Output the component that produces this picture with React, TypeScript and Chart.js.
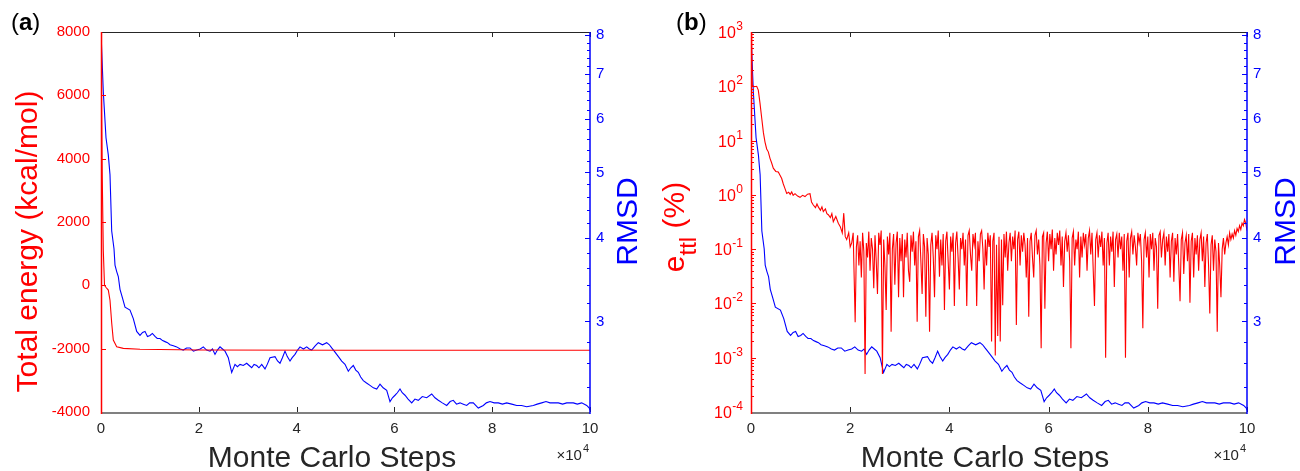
import React, { useEffect, useRef } from "react";
import { Chart, registerables } from "chart.js";
Chart.register(...registerables);

const FONT = "'Liberation Sans', Arial, Helvetica, sans-serif";
const RED = "#ff0000";
const BLUE = "#0000ff";
const DARK = "#262626";

// ---------- data ----------
const rmsdSteps = [0, 470, 1022, 1493, 1840, 2188, 2659, 2863, 3211, 3538, 3885, 4400, 4908, 5930, 6605, 7301, 7976, 8500, 8998, 9500, 10021, 10500, 11043, 11500, 12066, 12600, 13088, 13600, 14111, 14800, 15481, 16200, 16831, 17500, 18201, 18900, 19571, 20300, 20920, 21600, 22290, 22800, 23313, 23800, 24336, 24850, 25358, 26033, 26400, 26728, 27403, 27900, 28426, 29100, 29796, 30300, 30818, 31300, 31841, 32300, 32863, 33538, 34000, 34561, 35583, 36100, 36606, 37100, 37628, 38100, 38651, 39100, 39673, 40200, 40696, 41400, 42066, 42600, 43088, 43800, 44438, 45300, 46156, 46700, 47178, 47700, 48201, 48700, 49223, 49898, 50573, 51100, 51596, 52100, 52618, 53100, 53641, 54300, 55010, 55700, 56381, 57056, 57700, 58426, 59101, 59600, 60123, 60600, 61146, 61600, 62168, 62800, 63538, 64200, 64888, 65700, 66606, 67628, 68300, 68978, 69800, 70696, 71400, 72045, 72700, 73416, 74100, 74786, 75400, 76135, 77158, 78181, 78800, 79551, 80400, 81248, 82100, 82966, 84000, 85011, 86000, 87056, 88405, 89200, 90123, 91000, 91820, 92600, 93518, 94400, 95236, 96585, 97400, 98303, 99326, 99857, 100000];
const rmsdValues = [8.09, 6.59, 5.63, 5.31, 4.96, 4.09, 3.85, 3.64, 3.56, 3.5, 3.35, 3.25, 3.15, 3.12, 3.03, 2.9, 2.86, 2.89, 2.9, 2.85, 2.86, 2.88, 2.85, 2.83, 2.83, 2.81, 2.8, 2.79, 2.77, 2.76, 2.75, 2.73, 2.72, 2.74, 2.74, 2.71, 2.72, 2.73, 2.75, 2.72, 2.71, 2.73, 2.68, 2.72, 2.75, 2.73, 2.71, 2.65, 2.58, 2.52, 2.59, 2.57, 2.59, 2.58, 2.6, 2.58, 2.56, 2.59, 2.58, 2.56, 2.59, 2.55, 2.59, 2.65, 2.66, 2.62, 2.6, 2.65, 2.71, 2.66, 2.62, 2.65, 2.68, 2.72, 2.75, 2.73, 2.75, 2.73, 2.72, 2.76, 2.79, 2.77, 2.79, 2.77, 2.74, 2.71, 2.68, 2.65, 2.62, 2.59, 2.53, 2.56, 2.58, 2.54, 2.52, 2.48, 2.45, 2.43, 2.41, 2.39, 2.38, 2.42, 2.39, 2.37, 2.28, 2.31, 2.33, 2.35, 2.38, 2.35, 2.33, 2.3, 2.27, 2.3, 2.29, 2.32, 2.31, 2.34, 2.31, 2.29, 2.27, 2.25, 2.28, 2.29, 2.26, 2.27, 2.26, 2.25, 2.27, 2.27, 2.23, 2.25, 2.27, 2.28, 2.27, 2.27, 2.26, 2.27, 2.26, 2.25, 2.25, 2.24, 2.25, 2.26, 2.27, 2.28, 2.27, 2.27, 2.27, 2.26, 2.27, 2.27, 2.26, 2.27, 2.25, 2.23, 2.214];

const energySteps = [0, 100, 250, 470, 716, 1000, 1493, 1840, 2188, 2515, 3211, 4560, 7976, 20000, 50000, 100000];
const energyValues = [8000, 6000, 3500, 1100, 0, -60, -150, -470, -1190, -1730, -1940, -1990, -2020, -2040, -2048, -2050];

const errSteps = [
  0, 130, 262, 700, 1149, 1472, 1800, 2157, 2500, 2823, 3160, 3488, 3831, 4150, 4496, 5000, 5504, 5850, 6190, 6500,
  6855, 7198, 7600, 7900, 8206, 8500, 8871, 9400, 9879, 10400, 10887, 11400, 11895, 12200, 12560, 13000, 13300, 13569, 14000, 14300,
  14577, 15000, 15300, 15585, 16000, 16300, 16593, 17100, 17601, 18000, 18400, 18700, 19000, 19294, 19700, 20000, 20302, 20600,
  21000, 21250, 21500, 21750, 22000, 22250, 22500, 22750, 23000, 23250, 23500, 23750, 24000, 24250, 24500, 24750, 25000, 25250, 25500, 25750,
  26000, 26250, 26500, 26750, 27000, 27250, 27500, 27750, 28000, 28250, 28500, 28750, 29000, 29250, 29500, 29750, 30000, 30250, 30500, 30750,
  31000, 31250, 31500, 31750, 32000, 32250, 32500, 32750, 33000, 33250, 33500, 33750, 34000, 34250, 34500, 34750, 35000, 35250, 35500, 35750,
  36000, 36250, 36500, 36750, 37000, 37250, 37500, 37750, 38000, 38250, 38500, 38750, 39000, 39250, 39500, 39750, 40000, 40250, 40500, 40750,
  41000, 41250, 41500, 41750, 42000, 42250, 42500, 42750, 43000, 43250, 43500, 43750, 44000, 44250, 44500, 44750, 45000, 45250, 45500, 45750,
  46000, 46250, 46500, 46750, 47000, 47250, 47500, 47750, 48000, 48250, 48500, 48750, 49000, 49250, 49500, 49750, 50000, 50250, 50500, 50750,
  51000, 51250, 51500, 51750, 52000, 52250, 52500, 52750, 53000, 53250, 53500, 53750, 54000, 54250, 54500, 54750, 55000, 55250, 55500, 55750,
  56000, 56250, 56500, 56750, 57000, 57250, 57500, 57750, 58000, 58250, 58500, 58750, 59000, 59250, 59500, 59750, 60000, 60250, 60500, 60750,
  61000, 61250, 61500, 61750, 62000, 62250, 62500, 62750, 63000, 63250, 63500, 63750, 64000, 64250, 64500, 64750, 65000, 65250, 65500, 65750,
  66000, 66250, 66500, 66750, 67000, 67250, 67500, 67750, 68000, 68250, 68500, 68750, 69000, 69250, 69500, 69750, 70000, 70250, 70500, 70750,
  71000, 71250, 71500, 71750, 72000, 72250, 72500, 72750, 73000, 73250, 73500, 73750, 74000, 74250, 74500, 74750, 75000, 75250, 75500, 75750,
  76000, 76250, 76500, 76750, 77000, 77250, 77500, 77750, 78000, 78250, 78500, 78750, 79000, 79250, 79500, 79750, 80000, 80250, 80500, 80750,
  81000, 81250, 81500, 81750, 82000, 82250, 82500, 82750, 83000, 83250, 83500, 83750, 84000, 84250, 84500, 84750, 85000, 85250, 85500, 85750,
  86000, 86250, 86500, 86750, 87000, 87250, 87500, 87750, 88000, 88250, 88500, 88750, 89000, 89250, 89500, 89750, 90000, 90250, 90500, 90750,
  91000, 91250, 91500, 91750, 92000, 92250, 92500, 92750, 93000, 93250, 93500, 93750, 94000, 94250, 94500, 94750, 95000, 95250, 95500, 95750,
  96000, 96250, 96500, 96750, 97000, 97250, 97500, 97750, 98000, 98250, 98500, 98750, 99000, 99250, 99500, 99750, 100000,
];
const errValues = [
  1000, 260, 104, 98, 100, 85, 50, 26, 14, 9.4, 7, 6.2, 4.7, 3.9, 3.1, 2.7, 2.65, 2.3, 2.0, 1.6,
  1.3, 1.06, 1.12, 1.02, 1.13, 0.98, 1.05, 0.95, 0.9, 0.98, 0.93, 1.03, 1.05, 0.74, 0.65, 0.58, 0.68, 0.6, 0.52, 0.6,
  0.49, 0.55, 0.45, 0.43, 0.38, 0.45, 0.32, 0.4, 0.3, 0.26, 0.2, 0.46, 0.17, 0.15, 0.2, 0.11, 0.13, 0.2,
  0.0045, 0.11, 0.18, 0.05, 0.14, 0.03, 0.2, 0.09, 0.0005, 0.13, 0.07, 0.21, 0.04, 0.16, 0.1, 0.019, 0.18, 0.06, 0.015, 0.2,
  0.12, 0.22, 0.0005, 0.15, 0.05, 0.0076, 0.17, 0.08, 0.2, 0.003, 0.1, 0.19, 0.022, 0.13, 0.21, 0.013, 0.16, 0.06, 0.19, 0.013,
  0.15, 0.07, 0.2, 0.04, 0.025, 0.18, 0.09, 0.21, 0.05, 0.14, 0.0046, 0.17, 0.22, 0.06, 0.015, 0.19, 0.11, 0.0057, 0.16, 0.08,
  0.003, 0.12, 0.2, 0.07, 0.013, 0.18, 0.1, 0.22, 0.031, 0.15, 0.05, 0.19, 0.0076, 0.14, 0.21, 0.06, 0.018, 0.17, 0.09, 0.2,
  0.009, 0.13, 0.21, 0.07, 0.018, 0.16, 0.1, 0.2, 0.05, 0.15, 0.009, 0.18, 0.22, 0.08, 0.04, 0.19, 0.12, 0.2, 0.009, 0.14,
  0.06, 0.19, 0.22, 0.1, 0.018, 0.15, 0.05, 0.2, 0.11, 0.18, 0.002, 0.14, 0.2, 0.0011, 0.12, 0.0025, 0.17, 0.002, 0.15, 0.0093,
  0.19, 0.07, 0.21, 0.04, 0.13, 0.2, 0.06, 0.17, 0.1, 0.22, 0.004, 0.15, 0.21, 0.05, 0.18, 0.09, 0.2, 0.12, 0.03, 0.16,
  0.0057, 0.14, 0.2, 0.07, 0.03, 0.18, 0.22, 0.08, 0.15, 0.05, 0.0015, 0.17, 0.2, 0.008, 0.13, 0.21, 0.06, 0.19, 0.1, 0.23,
  0.04, 0.16, 0.08, 0.2, 0.12, 0.22, 0.05, 0.17, 0.02, 0.14, 0.2, 0.09, 0.18, 0.06, 0.0015, 0.16, 0.21, 0.05, 0.15, 0.1,
  0.21, 0.03, 0.17, 0.07, 0.2, 0.12, 0.19, 0.04, 0.16, 0.22, 0.08, 0.2, 0.04, 0.009, 0.15, 0.2, 0.07, 0.18, 0.11, 0.21,
  0.05, 0.16, 0.001, 0.13, 0.2, 0.05, 0.17, 0.09, 0.21, 0.02, 0.15, 0.19, 0.07, 0.2, 0.1, 0.17, 0.04, 0.19, 0.001, 0.14,
  0.2, 0.03, 0.16, 0.21, 0.08, 0.18, 0.11, 0.05, 0.2, 0.13, 0.19, 0.06, 0.0035, 0.15, 0.2, 0.07, 0.17, 0.03, 0.19, 0.1,
  0.2, 0.04, 0.16, 0.11, 0.008, 0.18, 0.21, 0.07, 0.15, 0.2, 0.05, 0.17, 0.09, 0.19, 0.03, 0.14, 0.2, 0.025, 0.16, 0.08,
  0.19, 0.05, 0.011, 0.15, 0.2, 0.035, 0.13, 0.18, 0.06, 0.19, 0.0103, 0.14, 0.2, 0.03, 0.16, 0.08, 0.18, 0.04, 0.15, 0.2,
  0.06, 0.17, 0.02, 0.13, 0.19, 0.05, 0.0065, 0.12, 0.18, 0.04, 0.15, 0.09, 0.003, 0.13, 0.05, 0.013, 0.1, 0.16, 0.08, 0.13,
  0.17, 0.12, 0.2, 0.15, 0.19, 0.16, 0.22, 0.18, 0.24, 0.21, 0.27, 0.23, 0.3, 0.27, 0.35, 0.3, 0.22,
];

// ---------- ticks ----------
const xTickValues = [0, 20000, 40000, 60000, 80000, 100000];
const energyTicks = [-4000, -2000, 0, 2000, 4000, 6000, 8000];
const rmsdTicks = [3, 4, 5, 6, 7, 8];
const rmsdMinorTicks = [2.4, 2.6, 2.8, 3.2, 3.4, 3.6, 3.8, 4.2, 4.4, 4.6, 4.8, 5.2, 5.4, 5.6, 5.8, 6.2, 6.4, 6.6, 6.8, 7.2, 7.4, 7.6, 7.8];
const errExponents = [-4, -3, -2, -1, 0, 1, 2, 3];
const errMinorMultipliers = [2, 3, 4, 5, 6, 7, 8, 9];

const RMSD_MIN = 2.214;
const RMSD_MAX = 8.09;

type PanelCfg = {
  panel: "a" | "b";
  yTitleX: number;
  yTitleY: number;
  rmsdTitleX: number;
  xTitleX: number;
  labelX: number;
};

const decorPlugin = {
  id: "figDecor",
  afterDraw(chart: any, _args: any, opts: PanelCfg) {
    const ctx: CanvasRenderingContext2D = chart.ctx;
    const { left, right, top, bottom } = chart.chartArea;
    const xs = chart.scales.x;
    const ys = chart.scales.y;
    const y1 = chart.scales.y1;
    ctx.save();
    const T = 5;
    const t = 3;
    const line = (x0: number, y0: number, x1: number, y1_: number) => {
      ctx.beginPath();
      ctx.moveTo(x0, y0);
      ctx.lineTo(x1, y1_);
      ctx.stroke();
    };
    // x ticks
    ctx.lineWidth = 1;
    ctx.strokeStyle = DARK;
    for (const v of xTickValues) {
      const px = Math.round(xs.getPixelForValue(v)) + 0.5;
      line(px, bottom, px, bottom - T);
      line(px, top, px, top + T);
    }
    // left ticks
    ctx.strokeStyle = RED;
    if (opts.panel === "a") {
      for (const v of energyTicks) {
        const py = Math.round(ys.getPixelForValue(v)) + 0.5;
        line(left, py, left + T, py);
      }
    } else {
      for (const e of errExponents) {
        const py = Math.round(ys.getPixelForValue(Math.pow(10, e))) + 0.5;
        line(left, py, left + T, py);
        if (e < 3) {
          for (const m of errMinorMultipliers) {
            const pm = Math.round(ys.getPixelForValue(m * Math.pow(10, e))) + 0.5;
            line(left, pm, left + t, pm);
          }
        }
      }
    }
    // right ticks
    ctx.strokeStyle = BLUE;
    for (const v of rmsdTicks) {
      const py = Math.round(y1.getPixelForValue(v)) + 0.5;
      line(right, py, right - T, py);
    }
    for (const v of rmsdMinorTicks) {
      const py = Math.round(y1.getPixelForValue(v)) + 0.5;
      line(right, py, right - t, py);
    }
    // frame
    ctx.lineWidth = 1;
    ctx.strokeStyle = DARK;
    line(left, top + 0.5, right, top + 0.5);
    ctx.lineWidth = 2;
    ctx.strokeStyle = "#808080";
    line(left, bottom + 1, right, bottom + 1);
    ctx.lineWidth = 1.5;
    ctx.strokeStyle = RED;
    line(left + 0.5, top, left + 0.5, bottom + 2);
    ctx.strokeStyle = BLUE;
    line(right, top, right, bottom + 2);

    // left log labels for panel b
    ctx.fillStyle = RED;
    if (opts.panel === "b") {
      const xEnd = left - 8;
      for (const e of errExponents) {
        const py = ys.getPixelForValue(Math.pow(10, e));
        ctx.font = `16px ${FONT}`;
        const tenW = ctx.measureText("10").width;
        ctx.font = `12px ${FONT}`;
        const expStr = String(e);
        const expW = ctx.measureText(expStr).width;
        ctx.textAlign = "left";
        ctx.textBaseline = "alphabetic";
        ctx.fillText(expStr, xEnd - expW, py - 2);
        ctx.font = `16px ${FONT}`;
        ctx.fillText("10", xEnd - expW - tenW - 0.5, py + 6);
      }
    }

    // x10^4
    ctx.fillStyle = DARK;
    ctx.textBaseline = "alphabetic";
    ctx.textAlign = "left";
    ctx.font = `11px ${FONT}`;
    const w4 = ctx.measureText("4").width;
    ctx.font = `15px ${FONT}`;
    const w10 = ctx.measureText("\u00d710").width;
    const xe = right - 1;
    ctx.fillText("\u00d710", xe - w4 - 1 - w10, 460);
    ctx.font = `11px ${FONT}`;
    ctx.fillText("4", xe - w4, 452);

    // x title
    ctx.font = `30px ${FONT}`;
    ctx.textAlign = "center";
    ctx.fillText("Monte Carlo Steps", opts.xTitleX, 466.5);

    // panel label
    ctx.fillStyle = "#000";
    ctx.textAlign = "left";
    ctx.font = `24px ${FONT}`;
    const pw = ctx.measureText("(").width;
    ctx.fillText("(", opts.labelX, 30);
    ctx.font = `bold 24px ${FONT}`;
    const lw = ctx.measureText(opts.panel).width;
    ctx.fillText(opts.panel, opts.labelX + pw, 30);
    ctx.font = `24px ${FONT}`;
    ctx.fillText(")", opts.labelX + pw + lw, 30);

    // RMSD title
    ctx.save();
    ctx.translate(opts.rmsdTitleX, 221.5);
    ctx.rotate(-Math.PI / 2);
    ctx.fillStyle = BLUE;
    ctx.textAlign = "center";
    ctx.font = `30px ${FONT}`;
    ctx.fillText("RMSD", 0, 0);
    ctx.restore();

    // left y title
    ctx.save();
    ctx.translate(opts.yTitleX, opts.yTitleY);
    ctx.rotate(-Math.PI / 2);
    ctx.fillStyle = RED;
    if (opts.panel === "a") {
      ctx.textAlign = "center";
      ctx.font = `30px ${FONT}`;
      ctx.fillText("Total energy (kcal/mol)", 0, 0);
    } else {
      ctx.textAlign = "left";
      ctx.font = `30px ${FONT}`;
      const we = ctx.measureText("e").width;
      const wp = ctx.measureText(" (%)").width;
      ctx.font = `24px ${FONT}`;
      const ws = ctx.measureText("ttl").width;
      const total = we + ws + wp;
      let cx = -total / 2;
      ctx.font = `30px ${FONT}`;
      ctx.fillText("e", cx, 0);
      cx += we;
      ctx.font = `24px ${FONT}`;
      ctx.fillText("ttl", cx, 12);
      cx += ws;
      ctx.font = `30px ${FONT}`;
      ctx.fillText(" (%)", cx, 0);
    }
    ctx.restore();
    ctx.restore();
  },
};

function toXY(xs: number[], ys: number[]) {
  return xs.map((x, i) => ({ x, y: ys[i] }));
}

function makeConfig(panel: "a" | "b"): any {
  const rightWidth = panel === "a" ? 60 : 53;
  const leftDataset =
    panel === "a"
      ? { label: "Total energy", data: toXY(energySteps, energyValues) }
      : { label: "e_ttl", data: toXY(errSteps, errValues) };
  const cfg: PanelCfg =
    panel === "a"
      ? { panel, yTitleX: 36.5, yTitleY: 241.5, rmsdTitleX: 636.5, xTitleX: 332, labelX: 11 }
      : { panel, yTitleX: 34, yTitleY: 227, rmsdTitleX: 644.5, xTitleX: 335, labelX: 26 };
  return {
    type: "line",
    data: {
      datasets: [
        {
          ...leftDataset,
          yAxisID: "y",
          borderColor: RED,
          borderWidth: 1.1,
          pointRadius: 0,
          tension: 0,
        },
        {
          label: "RMSD",
          data: toXY(rmsdSteps, rmsdValues),
          yAxisID: "y1",
          borderColor: BLUE,
          borderWidth: 1.1,
          pointRadius: 0,
          tension: 0,
        },
      ],
    },
    options: {
      animation: false,
      responsive: false,
      devicePixelRatio: 1,
      layout: { padding: { top: 32, left: 0, right: 0, bottom: 0 } },
      plugins: {
        legend: { display: false },
        tooltip: { enabled: false },
        figDecor: cfg,
      },
      scales: {
        x: {
          type: "linear",
          min: 0,
          max: 100000,
          afterBuildTicks: (s: any) => {
            s.ticks = xTickValues.map((v) => ({ value: v }));
          },
          afterFit: (s: any) => {
            s.height = 59;
          },
          grid: { display: false, drawTicks: false },
          border: { display: false },
          ticks: {
            autoSkip: false,
            maxRotation: 0,
            padding: 8,
            color: DARK,
            font: { size: 15, family: FONT },
            callback: (v: any) => String(Number(v) / 10000),
          },
        },
        y:
          panel === "a"
            ? {
                type: "linear",
                position: "left",
                min: -4000,
                max: 8000,
                afterBuildTicks: (s: any) => {
                  s.ticks = energyTicks.map((v) => ({ value: v }));
                },
                afterFit: (s: any) => {
                  s.width = 101;
                },
                grid: { display: false, drawTicks: false },
                border: { display: false },
                ticks: {
                  padding: 11,
                  color: RED,
                  font: { size: 15, family: FONT },
                  callback: (v: any) => String(v),
                },
              }
            : {
                type: "logarithmic",
                position: "left",
                min: 1e-4,
                max: 1e3,
                afterBuildTicks: (s: any) => {
                  s.ticks = errExponents.map((e) => ({ value: Math.pow(10, e) }));
                },
                afterFit: (s: any) => {
                  s.width = 101;
                },
                grid: { display: false, drawTicks: false },
                border: { display: false },
                ticks: { display: false },
              },
        y1: {
          type: "logarithmic",
          position: "right",
          min: RMSD_MIN,
          max: RMSD_MAX,
          afterBuildTicks: (s: any) => {
            s.ticks = rmsdTicks.map((v) => ({ value: v }));
          },
          afterFit: (s: any) => {
            s.width = rightWidth;
          },
          grid: { display: false, drawTicks: false },
          border: { display: false },
          ticks: {
            padding: 6,
            color: BLUE,
            font: { size: 15, family: FONT },
            callback: (v: any) => String(v),
          },
        },
      },
    },
    plugins: [decorPlugin],
  };
}

function Panel({ panel, left }: { panel: "a" | "b"; left: number }) {
  const ref = useRef<HTMLCanvasElement | null>(null);
  useEffect(() => {
    if (!ref.current) return;
    const chart = new Chart(ref.current, makeConfig(panel));
    return () => chart.destroy();
  }, [panel]);
  return (
    <canvas
      ref={ref}
      width={650}
      height={471}
      style={{ position: "absolute", left, top: 0, width: 650, height: 471, display: "block" }}
    />
  );
}

export default function App() {
  return (
    <div style={{ position: "absolute", left: 0, top: 0, width: 1300, height: 471, background: "#fff" }}>
      <Panel panel="a" left={0} />
      <Panel panel="b" left={650} />
    </div>
  );
}
